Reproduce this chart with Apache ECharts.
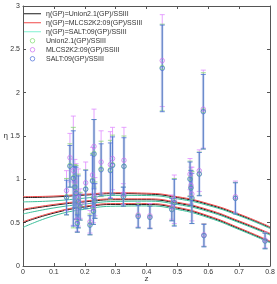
<!DOCTYPE html>
<html><head><meta charset="utf-8">
<script src="https://cdn.jsdelivr.net/npm/echarts@6/dist/echarts.min.js"></script>
<style>html,body{margin:0;padding:0;background:#fff}#c{width:277px;height:284px}</style>
</head><body><div id="c"></div>
<script>
// curve sample grid
const zGrid = [0, 0.1, 0.2, 0.3, 0.4, 0.5, 0.6, 0.7, 0.8];
// MLCS2K2 (red) upper / mid / lower
const mlcsUp  = [0.800, 0.807, 0.828, 0.845, 0.840, 0.800, 0.720, 0.600, 0.453];
const mlcsMid = [0.655, 0.710, 0.750, 0.775, 0.775, 0.735, 0.650, 0.520, 0.377];
const mlcsLow = [0.510, 0.620, 0.690, 0.720, 0.720, 0.677, 0.580, 0.440, 0.288];
// Union2.1 (black)
const unionUp  = [0.790, 0.797, 0.818, 0.835, 0.830, 0.790, 0.710, 0.590, 0.443];
const unionMid = [0.645, 0.700, 0.740, 0.765, 0.765, 0.725, 0.640, 0.510, 0.367];
const unionLow = [0.500, 0.610, 0.680, 0.710, 0.710, 0.667, 0.570, 0.430, 0.278];
// SALT (teal)
const saltUp  = [0.740, 0.752, 0.783, 0.815, 0.813, 0.775, 0.698, 0.580, 0.433];
const saltMid = [0.600, 0.670, 0.715, 0.745, 0.748, 0.710, 0.628, 0.500, 0.357];
const saltLow = [0.445, 0.580, 0.655, 0.690, 0.693, 0.652, 0.558, 0.420, 0.268];

// data points
const zPts    = [0.141,0.152,0.163,0.168,0.172,0.176,0.179,0.185,0.203,0.217,0.225,0.228,0.230,0.233,0.253,0.283,0.290,0.327,0.325,0.373,0.411,0.451,0.482,0.490,0.541,0.544,0.547,0.571,0.584,0.586,0.688,0.784];
const saltEta = [0.79,1.15,1.01,0.91,0.84,0.49,0.74,0.68,0.885,0.47,0.98,0.63,1.29,0.75,1.11,1.10,1.16,1.15,0.80,0.57,0.56,2.28,0.65,0.73,1.00,0.90,0.78,1.06,1.78,0.35,0.78,0.288];
const saltErr = [0.20,0.24,0.55,0.24,0.30,0.10,0.30,0.15,0.22,0.11,0.30,0.15,0.40,0.20,0.30,0.32,0.33,0.33,0.11,0.13,0.13,0.50,0.13,0.27,0.20,0.20,0.29,0.25,0.43,0.13,0.18,0.09];
const mlcsEta = [0.87,1.25,1.10,0.97,0.86,0.53,0.79,0.72,0.96,0.51,1.05,0.67,1.38,0.80,1.20,1.17,1.24,1.22,0.83,0.59,0.58,2.37,0.68,0.77,1.06,0.93,0.83,1.10,1.81,0.36,0.80,0.30];
const mlcsErr = [0.23,0.28,0.63,0.26,0.32,0.13,0.33,0.17,0.24,0.13,0.32,0.17,0.43,0.22,0.36,0.38,0.36,0.38,0.12,0.14,0.14,0.53,0.14,0.28,0.18,0.21,0.31,0.24,0.45,0.13,0.18,0.09];
const unionEta= [0.80,1.16,1.02,0.92,0.85,0.50,0.75,0.69,0.89,0.48,0.99,0.64,1.30,0.76,1.12,1.11,1.17,1.15,0.80,0.58,0.565,2.29,0.655,0.74,1.01,0.905,0.79,1.065,1.79,0.355,0.785,0.29];
const unionErr= [0.21,0.25,0.58,0.25,0.31,0.11,0.31,0.16,0.22,0.12,0.31,0.16,0.39,0.21,0.32,0.34,0.34,0.35,0.11,0.14,0.13,0.50,0.13,0.27,0.20,0.20,0.30,0.25,0.44,0.13,0.18,0.09];

const xTicks = [0,0.1,0.2,0.3,0.4,0.5,0.6,0.7,0.8];
const yTicks = [0,0.5,1,1.5,2,2.5,3];

const C_RED='#f04848', C_BLACK='#1a1a1a', C_TEAL='#3cbf9a';
const C_GREEN='#7fdc6f', C_MAG='#cc70f0', C_BLUE='#4a6ed8';
const NAMES = ['η(GP)=Union2.1(GP)/SSIII','η(GP)=MLCS2K2:09(GP)/SSIII','η(GP)=SALT:09(GP)/SSIII','Union2.1(GP)/SSIII','MLCS2K2:09(GP)/SSIII','SALT:09(GP)/SSIII'];
const LINE_ICON = 'path://M0,0h34v2h-34z';

function pairs(ys){ return zGrid.map((z,i)=>[z,ys[i]]); }
function curve(name, ys, color, zz){
  return {type:'line', name:name, data:pairs(ys), smooth:0.5, symbol:'none', showSymbol:false,
    lineStyle:{color:color,width:1}, itemStyle:{color:color}, z:zz, silent:true};
}
function errSeries(id, eta, err, color, halo, zz){
  return {type:'custom', name:id, z:zz, silent:true,
    data: zPts.map((z,i)=>[z, eta[i], err[i]]),
    encode:{x:0,y:1},
    renderItem:function(params, api){
      const x=api.value(0), y=api.value(1), e=api.value(2);
      const t=api.coord([x,y+e]), b=api.coord([x,y-e]);
      const w=2.5, ch=[];
      if(halo) ch.push({type:'line',shape:{x1:t[0],y1:t[1],x2:b[0],y2:b[1]},style:{stroke:halo,lineWidth:3}});
      ch.push({type:'line',shape:{x1:t[0],y1:t[1],x2:b[0],y2:b[1]},style:{stroke:color,lineWidth:0.8}});
      ch.push({type:'line',shape:{x1:t[0]-w,y1:t[1],x2:t[0]+w,y2:t[1]},style:{stroke:color,lineWidth:0.8}});
      ch.push({type:'line',shape:{x1:b[0]-w,y1:b[1],x2:b[0]+w,y2:b[1]},style:{stroke:color,lineWidth:0.8}});
      return {type:'group',children:ch};
    }};
}
function pts(name, eta, color, zz){
  return {type:'scatter', name:name, data:zPts.map((z,i)=>[z,eta[i]]), symbol:'circle', symbolSize:4.5,
    itemStyle:{color:'rgba(0,0,0,0)', borderColor:color, borderWidth:0.9}, z:zz, silent:true};
}

const FONT='Liberation Sans';
const axisCommon = {axisLine:{show:true,onZero:false,lineStyle:{color:'#555',width:1}},
  axisTick:{show:true,inside:true,length:3,lineStyle:{color:'#555'}}, splitLine:{show:false}};

const chart = echarts.init(document.getElementById('c'), null, {renderer:'canvas'});
chart.setOption({
  animation:false,
  backgroundColor:'#fff',
  grid:{left:23,right:7,top:6,bottom:18,containLabel:false,outerBoundsMode:'none'},
  legend:{show:true, orient:'vertical', left:24, top:10, padding:0,
    data:[
      {name:NAMES[0], icon:LINE_ICON, itemStyle:{color:C_BLACK}},
      {name:NAMES[1], icon:LINE_ICON, itemStyle:{color:C_RED}},
      {name:NAMES[2], icon:LINE_ICON, itemStyle:{color:'#7ff0d0'}},
      {name:NAMES[3], icon:'circle', itemStyle:{color:'rgba(0,0,0,0)', borderColor:C_GREEN, borderWidth:0.9}},
      {name:NAMES[4], icon:'circle', itemStyle:{color:'rgba(0,0,0,0)', borderColor:C_MAG, borderWidth:0.9}},
      {name:NAMES[5], icon:'circle', itemStyle:{color:'rgba(0,0,0,0)', borderColor:C_BLUE, borderWidth:0.9}}
    ],
    itemWidth:17, itemHeight:4.5, itemGap:1.5, selectedMode:false,
    textStyle:{fontSize:7, fontFamily:FONT, color:'#333', lineHeight:7.5}},
  xAxis:[
    Object.assign({type:'value', min:0, max:0.8, interval:0.1, position:'bottom',
      name:'z', nameLocation:'middle', nameGap:9, nameMoveOverlap:false, nameTextStyle:{fontSize:8,fontFamily:FONT,color:'#333'},
      axisLabel:{fontSize:7,fontFamily:FONT,color:'#333',margin:3, formatter:v=>String(+v.toFixed(1))}}, axisCommon),
    Object.assign({type:'value', min:0, max:0.8, interval:0.1, position:'top', axisLabel:{show:false}}, axisCommon)
  ],
  yAxis:[
    Object.assign({type:'value', min:0, max:3, interval:0.5, position:'left',
      name:'η', nameLocation:'middle', nameGap:15, nameMoveOverlap:false, nameRotate:0, nameTextStyle:{fontSize:8,fontFamily:FONT,color:'#333'},
      axisLabel:{fontSize:7,fontFamily:FONT,color:'#333',margin:3}}, axisCommon),
    Object.assign({type:'value', min:0, max:3, interval:0.5, position:'right', axisLabel:{show:false}}, axisCommon)
  ],
  series:[
    curve(NAMES[0], unionUp, C_BLACK, 2), curve(NAMES[0], unionMid, C_BLACK, 2), curve(NAMES[0], unionLow, C_BLACK, 2),
    curve(NAMES[1], mlcsUp, C_RED, 2), curve(NAMES[1], mlcsMid, C_RED, 2), curve(NAMES[1], mlcsLow, C_RED, 2),
    curve(NAMES[2], saltUp, C_TEAL, 2), curve(NAMES[2], saltMid, C_TEAL, 2), curve(NAMES[2], saltLow, C_TEAL, 2),
    errSeries('errM', mlcsEta, mlcsErr, '#e08cff', null, 3),
    errSeries('errU', unionEta, unionErr, '#8ad47a', null, 3),
    errSeries('errS', saltEta, saltErr, C_BLUE, 'rgba(140,165,235,0.28)', 3),
    pts(NAMES[3], unionEta, C_GREEN, 4),
    pts(NAMES[4], mlcsEta, C_MAG, 4),
    pts(NAMES[5], saltEta, C_BLUE, 5)
  ]
});
</script></body></html>
